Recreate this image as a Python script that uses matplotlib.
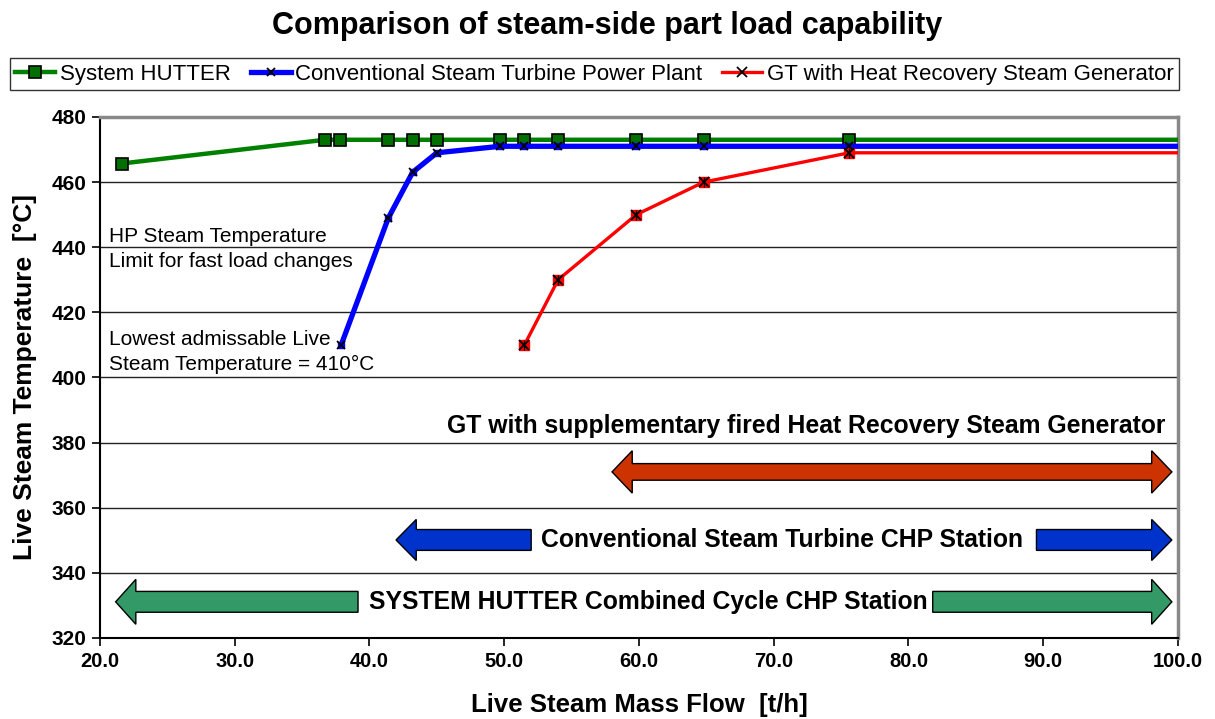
import matplotlib
matplotlib.use('Agg')
import matplotlib.pyplot as plt
from matplotlib.patches import Polygon
from matplotlib.lines import Line2D

plt.rcParams['font.family'] = ['Liberation Sans', 'DejaVu Sans']

# data
hutter_x = [21.6, 36.7, 37.8, 41.4, 43.2, 45.0, 49.7, 51.5, 54.0, 59.8, 64.8, 75.6, 100.0]
hutter_y = [465.7, 473, 473, 473, 473, 473, 473, 473, 473, 473, 473, 473, 473]

conv_x = [37.9, 41.4, 43.2, 45.0, 49.7, 51.5, 54.0, 59.8, 64.8, 75.6, 100.0]
conv_y = [410, 449, 463, 469, 471, 471, 471, 471, 471, 471, 471]

gt_x = [51.5, 54.0, 59.8, 64.8, 75.6, 100.0]
gt_y = [410, 430, 450, 460, 469, 469]

x_ticks = [20, 30, 40, 50, 60, 70, 80, 90, 100]
y_ticks = [320, 340, 360, 380, 400, 420, 440, 460, 480]


def arrow_poly(x0, x1, yc, shaft, head, hlen, left=True, right=True):
    s, h = shaft / 2, head / 2
    pts = []
    if left:
        pts += [(x0, yc), (x0 + hlen, yc + h), (x0 + hlen, yc + s)]
    else:
        pts += [(x0, yc + s)]
    if right:
        pts += [(x1 - hlen, yc + s), (x1 - hlen, yc + h), (x1, yc),
                (x1 - hlen, yc - h), (x1 - hlen, yc - s)]
    else:
        pts += [(x1, yc + s), (x1, yc - s)]
    if left:
        pts += [(x0 + hlen, yc - s), (x0 + hlen, yc - h)]
    else:
        pts += [(x0, yc - s)]
    return pts


fig = plt.figure(figsize=(12.15, 7.19), dpi=100)
ax = fig.add_axes([0.0823, 0.1127, 0.8872, 0.7246])

ax.set_xlim(20, 100)
ax.set_ylim(320, 480)
ax.set_xticks(x_ticks)
ax.set_yticks(y_ticks)
ax.set_xticklabels(['%.1f' % v for v in x_ticks], fontweight='bold', fontsize=14.5)
ax.set_yticklabels([str(v) for v in y_ticks], fontweight='bold', fontsize=15)
ax.tick_params(direction='out', length=6, width=1.2, color='black', pad=4)
ax.yaxis.grid(True, color='#222222', linewidth=1.0)
ax.set_axisbelow(True)
for side in ['top', 'right']:
    ax.spines[side].set_color('#888888')
    ax.spines[side].set_linewidth(2.5)
ax.spines['left'].set_linewidth(1.5)
ax.spines['bottom'].set_linewidth(1.5)

# series
l1, = ax.plot(hutter_x, hutter_y, color='#008000', linewidth=3.2, marker='s',
              markersize=9, markerfacecolor='#007000', markeredgecolor='black',
              markeredgewidth=1.2, markevery=list(range(len(hutter_x) - 1)), zorder=4)
l2, = ax.plot(conv_x, conv_y, color='#0000FF', linewidth=3.8, marker='s',
              markersize=5, markerfacecolor='#0000FF', markeredgecolor='#0000FF',
              markevery=list(range(len(conv_x) - 1)), zorder=5)
ax.plot(conv_x[:-1], conv_y[:-1], linestyle='none', marker='x', markersize=6,
        color='black', markeredgewidth=1.3, zorder=6)
l3, = ax.plot(gt_x, gt_y, color='#FF0000', linewidth=2.4, marker='s',
              markersize=7, markerfacecolor='#FF0000', markeredgecolor='#FF0000',
              markevery=list(range(len(gt_x) - 1)), zorder=5)
ax.plot(gt_x[:-1], gt_y[:-1], linestyle='none', marker='x', markersize=7,
        color='black', markeredgewidth=1.3, zorder=6)
ax.plot(gt_x[:-1], gt_y[:-1], linestyle='none', marker='|', markersize=7,
        color='black', markeredgewidth=1.0, zorder=6)

# range arrows
arrows = [
    (58.0, 99.55, 371.0, 5.1, 13.0, True, True, '#CC3300'),
    (41.97, 52.0, 350.1, 6.4, 12.6, True, False, '#0033CC'),
    (89.5, 99.55, 350.1, 6.4, 12.6, False, True, '#0033CC'),
    (21.16, 39.15, 331.1, 6.4, 13.8, True, False, '#339966'),
    (81.8, 99.55, 331.1, 6.4, 13.8, False, True, '#339966'),
]
for x0, x1, yc, s, h, lft, rgt, col in arrows:
    ax.add_patch(Polygon(arrow_poly(x0, x1, yc, s, h, 1.5, lft, rgt), closed=True,
                         facecolor=col, edgecolor='black', linewidth=1.0, zorder=3))

ax.text(99.1, 385.0, 'GT with supplementary fired Heat Recovery Steam Generator',
        ha='right', va='center', fontsize=17.8, fontweight='bold')
ax.text(70.6, 350.1, 'Conventional Steam Turbine CHP Station',
        ha='center', va='center', fontsize=17.8, fontweight='bold')
ax.text(60.7, 331.1, 'SYSTEM HUTTER Combined Cycle CHP Station',
        ha='center', va='center', fontsize=17.8, fontweight='bold')

ax.text(20.65, 439.5, 'HP Steam Temperature\nLimit for fast load changes',
        ha='left', va='center', fontsize=15, linespacing=1.38)
ax.text(20.65, 407.8, 'Lowest admissable Live\nSteam Temperature = 410\u00b0C',
        ha='left', va='center', fontsize=15, linespacing=1.38)

ax.set_xlabel('Live Steam Mass Flow  [t/h]', fontsize=18.5, fontweight='bold', labelpad=16)
ax.set_ylabel('Live Steam Temperature  [\u00b0C]', fontsize=19, fontweight='bold', labelpad=10)

fig.suptitle('Comparison of steam-side part load capability', fontsize=22,
             fontweight='bold', y=0.985)

h2 = Line2D([], [], color='#0000FF', linewidth=3.8, marker='x', markersize=6,
            markeredgecolor='black', markeredgewidth=1.3)
h3 = Line2D([], [], color='#FF0000', linewidth=2.4, marker='x', markersize=7,
            markeredgecolor='black', markeredgewidth=1.3)
leg = fig.legend([l1, h2, h3],
                 ['System HUTTER', 'Conventional Steam Turbine Power Plant',
                  'GT with Heat Recovery Steam Generator'],
                 loc='upper left', bbox_to_anchor=(0.008, 0.919), ncol=3,
                 fontsize=16, frameon=True, fancybox=False, handlelength=1.8,
                 handletextpad=0.2, columnspacing=0.9, borderpad=0.25,
                 borderaxespad=0)
leg.get_frame().set_edgecolor('black')
leg.get_frame().set_linewidth(1.0)

fig.savefig('out.png', dpi=100)
